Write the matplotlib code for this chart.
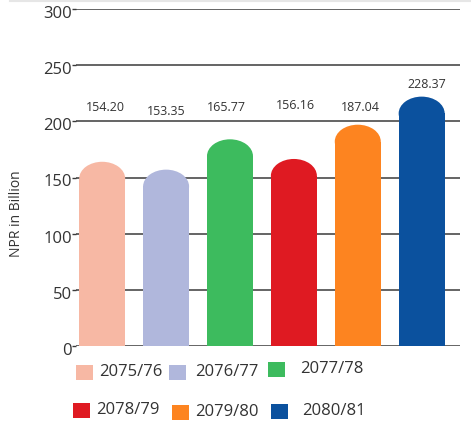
import matplotlib
matplotlib.use("Agg")
import matplotlib.pyplot as plt
import matplotlib.transforms as mtransforms
from matplotlib.patches import Rectangle, Ellipse
from matplotlib.lines import Line2D

categories = ["2075/76", "2076/77", "2077/78", "2078/79", "2079/80", "2080/81"]
label_values = [154.20, 153.35, 165.77, 156.16, 187.04, 228.37]
# bar heights as drawn in the picture (they differ from the printed labels)
bar_heights = [164, 157, 184, 166.5, 197, 222]
colors = ["#F7B8A4", "#B0B7DC", "#3DBB5E", "#DF1A22", "#FD8420", "#0B519E"]
y_ticks = [0, 50, 100, 150, 200, 250, 300]

W, H = 471, 432
fig = plt.figure(figsize=(W / 100, H / 100), dpi=100)
ax = fig.add_axes([76 / W, 1 - 346 / H, (460 - 76) / W, (346 - 9) / H])
ax.set_ylim(0, 300)
ax.set_xlim(-0.41, 5.6)

font = "Open Sans"
txt = "#333333"

for y in y_ticks:
    ax.axhline(y, color="#3a3a3a", lw=1.1, zorder=1)

bw = 0.72
cap = 15
for i, (h, c) in enumerate(zip(bar_heights, colors)):
    ax.add_patch(Rectangle((i - bw / 2, 0), bw, h - cap, facecolor=c, edgecolor="none", zorder=2))
    ax.add_patch(Ellipse((i, h - cap), bw, 2 * cap, facecolor=c, edgecolor="none", zorder=2))

label_offsets = [0.05, 0.0, -0.05, 0.03, 0.04, 0.08]
label_y = [212, 209, 212, 214, 212, 233]
for i, v in enumerate(label_values):
    ax.text(i + label_offsets[i], label_y[i], f"{v:.2f}", ha="center", va="center",
            fontsize=9, color=txt, family=font)

ax.set_yticks(y_ticks)
ax.set_yticklabels([str(t) for t in y_ticks], fontsize=12, color=txt, family=font)
ax.tick_params(axis="y", length=3, width=1, color="#3a3a3a", pad=0)
offset = mtransforms.ScaledTranslation(0, -3 / 100, fig.dpi_scale_trans)
for lbl in ax.get_yticklabels():
    lbl.set_transform(lbl.get_transform() + offset)
ax.set_xticks([])
for s in ax.spines.values():
    s.set_visible(False)
ax.patch.set_alpha(0)

fig.text(17 / W, 1 - 214 / H, "NPR in Billion", rotation=90, ha="center", va="center",
         fontsize=10, color=txt, family=font)

# top light line
fig.add_artist(Line2D([10 / W, 1], [1 - 1 / H, 1 - 1 / H], color="#e6e6e6", lw=1.5))

# manual legend
legend_pos = [(76, 372, 99), (169, 372, 195), (268, 369, 300),
              (73, 410, 96), (172, 412, 195), (271, 411, 302)]
for (px, py, tx), c, lab in zip(legend_pos, colors, categories):
    fig.add_artist(Rectangle((px / W, 1 - (py + 7.5) / H), 17 / W, 15 / H,
                             facecolor=c, edgecolor="none", transform=fig.transFigure))
    fig.text(tx / W, 1 - py / H, lab, ha="left", va="center", fontsize=12,
             color=txt, family=font)

fig.savefig("out.png", dpi=100)
